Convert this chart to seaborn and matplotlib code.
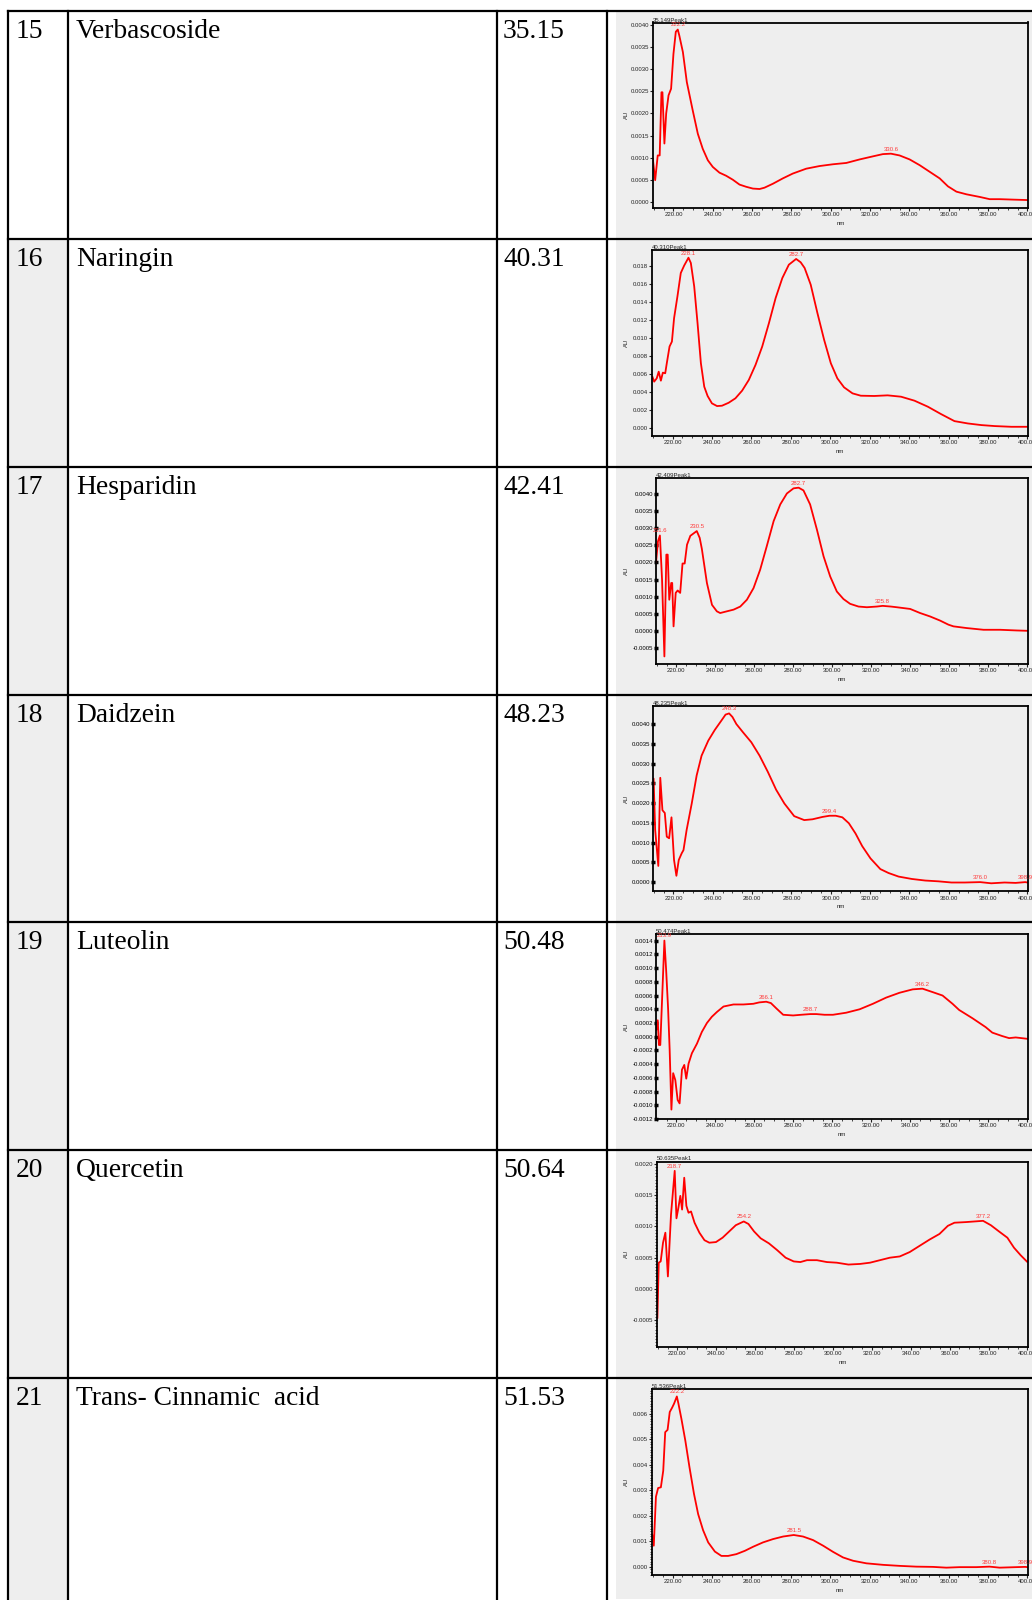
import numpy as np
import matplotlib
matplotlib.use("Agg")
import matplotlib.pyplot as plt
from matplotlib import font_manager as fm
from matplotlib.patches import Rectangle
from matplotlib.ticker import MultipleLocator, FormatStrFormatter
import seaborn as sns

sns.set_style("white")
plt.rcParams["font.family"] = ["Liberation Sans", "DejaVu Sans"]
plt.rcParams["text.color"] = "black"

# pick a Times-like serif face for the table text
_serif_names = sorted({f.name for f in fm.fontManager.ttflist})
serif_face = next((n for n in ["Liberation Serif", "Times New Roman", "Nimbus Roman",
                               "Tinos", "DejaVu Serif"] if n in _serif_names), "serif")

# ---- table content ----
serial_no = ["15", "16", "17", "18", "19", "20", "21"]
compounds = ["Verbascoside", "Naringin", "Hesparidin", "Daidzein", "Luteolin",
             "Quercetin", "Trans- Cinnamic  acid"]
retention = ["35.15", "40.31", "42.41", "48.23", "50.48", "50.64", "51.53"]
peak_titles = ["35.149Peak1", "40.310Peak1", "42.409Peak1", "48.235Peak1",
               "50.474Peak1", "50.635Peak1", "51.536Peak1"]

# ---- UV spectra (wavelength in nm, absorbance in AU) ----
wl_verbascoside = [209.5, 210.7, 212.0, 213.0, 213.9, 214.4, 215.4, 216.3, 217.5, 218.8,
                   220.0, 221.2, 222.2, 223.0, 224.8, 226.8, 229.8, 232.4, 234.9, 237.5,
                   240.0, 243.4, 246.8, 250.2, 253.6, 257.0, 260.4, 263.8, 266.3, 270.6,
                   275.6, 280.7, 287.5, 294.3, 301.1, 307.9, 314.7, 321.5, 326.5, 330.6,
                   335.0, 340.1, 345.2, 350.3, 355.4, 359.6, 363.9, 369.0, 375.8, 380.8,
                   385.9, 392.7, 400.0]
au_verbascoside = [0.00098, 0.00049, 0.00105, 0.00105, 0.00248, 0.00248, 0.00132, 0.00200, 0.00241, 0.00256,
                   0.00335, 0.00385, 0.00390, 0.00376, 0.00339, 0.00271, 0.00207, 0.00154, 0.00120, 0.00094,
                   0.00079, 0.00066, 0.00059, 0.00050, 0.00039, 0.00034, 0.00030, 0.00029, 0.00032, 0.00041,
                   0.00053, 0.00064, 0.00075, 0.00081, 0.00085, 0.00088, 0.00096, 0.00103, 0.00108, 0.00109,
                   0.00105, 0.00096, 0.00083, 0.00068, 0.00053, 0.00035, 0.00023, 0.00017, 0.00011, 0.00006,
                   0.00006, 0.00005, 0.00004]

wl_naringin = [209.8, 210.7, 212.0, 213.0, 214.1, 215.1, 216.3, 217.1, 218.5, 219.7,
               220.8, 222.5, 224.2, 225.9, 228.1, 229.3, 231.0, 232.7, 234.4, 236.1,
               237.8, 240.0, 242.6, 245.1, 248.5, 251.9, 255.3, 258.7, 262.1, 265.5,
               268.9, 272.3, 275.7, 279.0, 282.7, 285.0, 287.0, 290.1, 293.5, 296.9,
               300.3, 303.6, 307.0, 311.3, 315.5, 322.3, 329.1, 335.9, 342.7, 349.5,
               356.2, 363.0, 369.8, 376.6, 383.4, 391.9, 400.0]
au_naringin = [0.00568, 0.00512, 0.00549, 0.00623, 0.00523, 0.00612, 0.00605, 0.00716, 0.00902, 0.00957,
               0.01217, 0.01458, 0.01718, 0.01800, 0.01888, 0.01829, 0.01570, 0.01161, 0.00716, 0.00456,
               0.00353, 0.00271, 0.00241, 0.00245, 0.00278, 0.00327, 0.00412, 0.00531, 0.00698, 0.00902,
               0.01161, 0.01440, 0.01662, 0.01810, 0.01874, 0.01837, 0.01774, 0.01588, 0.01273, 0.00976,
               0.00716, 0.00549, 0.00449, 0.00382, 0.00356, 0.00353, 0.00360, 0.00345, 0.00301, 0.00234,
               0.00152, 0.00074, 0.00048, 0.00030, 0.00019, 0.00011, 0.00011]

wl_hesperidin = [209.6, 210.6, 211.6, 212.7, 213.9, 214.9, 215.6, 216.4, 217.4, 217.9,
                 218.6, 219.7, 220.7, 222.0, 223.2, 224.3, 225.5, 227.2, 230.5, 232.0,
                 233.1, 235.7, 238.3, 240.8, 242.5, 245.9, 249.4, 252.8, 256.2, 259.6,
                 263.0, 266.4, 269.9, 273.3, 276.7, 280.1, 282.7, 285.2, 288.6, 292.1,
                 295.5, 298.9, 302.3, 305.7, 309.1, 313.4, 317.7, 322.8, 325.8, 330.0,
                 333.0, 339.9, 345.0, 350.1, 355.2, 359.5, 362.1, 368.9, 377.5, 386.0,
                 394.5, 400.0]
au_hesperidin = [0.00199, 0.00262, 0.00279, 0.00150, -0.00075, 0.00223, 0.00223, 0.00091, 0.00140, 0.00140,
                 0.00013, 0.00111, 0.00118, 0.00111, 0.00197, 0.00197, 0.00252, 0.00278, 0.00292, 0.00272,
                 0.00240, 0.00140, 0.00076, 0.00057, 0.00052, 0.00057, 0.00062, 0.00071, 0.00091, 0.00125,
                 0.00179, 0.00248, 0.00321, 0.00370, 0.00402, 0.00417, 0.00419, 0.00411, 0.00370, 0.00296,
                 0.00218, 0.00159, 0.00115, 0.00093, 0.00079, 0.00071, 0.00069, 0.00071, 0.00073, 0.00071,
                 0.00069, 0.00064, 0.00052, 0.00042, 0.00030, 0.00018, 0.00013, 0.00008, 0.00003, 0.00003,
                 0.00001, 0.00000]

wl_daidzein = [209.9, 210.7, 212.3, 213.3, 214.4, 215.6, 216.6, 217.8, 219.0, 220.3,
               221.5, 222.7, 224.2, 225.1, 226.7, 229.3, 231.8, 234.3, 237.7, 241.0,
               244.4, 246.5, 248.3, 250.0, 252.0, 255.4, 259.6, 263.8, 268.0, 272.2,
               276.4, 281.4, 286.5, 290.7, 295.8, 299.4, 302.5, 305.9, 309.2, 312.6,
               316.0, 320.2, 325.2, 329.4, 334.5, 341.2, 348.0, 354.7, 361.4, 368.1,
               376.0, 381.6, 388.4, 394.0, 398.9, 400.0]
au_daidzein = [0.00262, 0.00132, 0.00041, 0.00264, 0.00182, 0.00175, 0.00115, 0.00111, 0.00164, 0.00056,
               0.00016, 0.00056, 0.00073, 0.00081, 0.00132, 0.00199, 0.00270, 0.00320, 0.00358, 0.00385,
               0.00409, 0.00424, 0.00427, 0.00418, 0.00400, 0.00379, 0.00354, 0.00320, 0.00279, 0.00234,
               0.00199, 0.00167, 0.00157, 0.00159, 0.00165, 0.00168, 0.00168, 0.00164, 0.00149, 0.00123,
               0.00091, 0.00060, 0.00033, 0.00023, 0.00014, 0.00008, 0.00004, 0.00002, -0.00001, -0.00001,
               0.00000, -0.00003, -0.00001, -0.00002, 0.00000, -0.00001]

wl_luteolin = [209.8, 210.5, 211.1, 211.8, 213.9, 214.8, 215.8, 216.6, 217.5, 218.4,
               219.5, 220.7, 221.7, 222.9, 224.1, 225.1, 226.3, 228.0, 230.6, 233.1,
               235.7, 238.2, 240.8, 244.2, 249.3, 254.4, 259.5, 262.5, 266.1, 268.5,
               271.4, 274.8, 279.9, 284.0, 288.7, 291.8, 296.0, 300.3, 307.1, 314.0,
               320.8, 327.6, 334.4, 341.2, 346.2, 351.4, 356.5, 361.6, 365.0, 371.8,
               378.6, 382.0, 387.1, 390.6, 394.0, 400.0]
au_luteolin = [0.00010, 0.00024, -0.00012, -0.00012, 0.00140, 0.00097, 0.00041, -0.00019, -0.00106, -0.00053,
               -0.00063, -0.00092, -0.00097, -0.00048, -0.00041, -0.00061, -0.00039, -0.00024, -0.00010, 0.00007,
               0.00020, 0.00029, 0.00036, 0.00044, 0.00047, 0.00047, 0.00048, 0.00050, 0.00051, 0.00049,
               0.00041, 0.00032, 0.00031, 0.00032, 0.00033, 0.00033, 0.00032, 0.00032, 0.00035, 0.00040,
               0.00048, 0.00057, 0.00064, 0.00069, 0.00070, 0.00065, 0.00060, 0.00048, 0.00039, 0.00027,
               0.00014, 0.00006, 0.00001, -0.00002, -0.00001, -0.00003]

wl_quercetin = [209.8, 210.5, 211.5, 212.7, 213.9, 215.2, 216.8, 218.7, 219.6, 220.6,
                221.6, 222.5, 223.6, 224.7, 225.8, 227.1, 228.9, 231.4, 234.0, 236.5,
                239.9, 243.3, 246.7, 250.1, 254.2, 256.6, 259.5, 262.9, 267.1, 271.4,
                275.7, 279.9, 283.3, 286.7, 291.8, 296.9, 302.0, 308.0, 314.0, 319.1,
                324.2, 329.3, 334.4, 339.5, 344.6, 349.7, 354.8, 359.1, 362.5, 368.4,
                377.2, 381.2, 385.4, 389.7, 393.1, 396.5, 400.0]
au_quercetin = [-0.00047, 0.00042, 0.00044, 0.00074, 0.00090, 0.00020, 0.00119, 0.00189, 0.00113, 0.00130,
                0.00149, 0.00127, 0.00178, 0.00133, 0.00122, 0.00124, 0.00106, 0.00090, 0.00078, 0.00074,
                0.00075, 0.00082, 0.00092, 0.00102, 0.00108, 0.00104, 0.00092, 0.00081, 0.00073, 0.00062,
                0.00050, 0.00044, 0.00043, 0.00046, 0.00046, 0.00043, 0.00042, 0.00039, 0.00040, 0.00042,
                0.00046, 0.00050, 0.00052, 0.00059, 0.00069, 0.00079, 0.00088, 0.00101, 0.00106, 0.00107,
                0.00109, 0.00102, 0.00092, 0.00082, 0.00066, 0.00054, 0.00043]

wl_cinnamic = [209.7, 210.5, 211.6, 212.7, 214.1, 215.3, 216.3, 217.5, 218.6, 219.8,
               220.8, 222.2, 223.0, 224.5, 226.5, 228.6, 230.9, 233.0, 235.5, 238.1,
               241.5, 244.8, 248.2, 252.4, 256.7, 260.9, 265.9, 271.0, 276.1, 281.5,
               286.2, 291.3, 296.4, 301.4, 306.5, 311.6, 318.3, 326.8, 335.2, 343.6,
               352.1, 358.9, 365.6, 374.1, 380.8, 385.9, 394.3, 398.9, 400.0]
au_cinnamic = [0.00128, 0.00083, 0.00275, 0.00309, 0.00312, 0.00377, 0.00528, 0.00537, 0.00607, 0.00624,
               0.00640, 0.00668, 0.00640, 0.00581, 0.00495, 0.00391, 0.00286, 0.00207, 0.00144, 0.00096,
               0.00060, 0.00043, 0.00043, 0.00050, 0.00063, 0.00079, 0.00096, 0.00109, 0.00119, 0.00125,
               0.00119, 0.00105, 0.00083, 0.00059, 0.00037, 0.00024, 0.00014, 0.00008, 0.00004, 0.00001,
               0.00000, -0.00003, -0.00001, -0.00001, 0.00001, -0.00003, -0.00001, 0.00000, -0.00001]

wavelengths = [wl_verbascoside, wl_naringin, wl_hesperidin, wl_daidzein,
               wl_luteolin, wl_quercetin, wl_cinnamic]
absorbances = [au_verbascoside, au_naringin, au_hesperidin, au_daidzein,
               au_luteolin, au_quercetin, au_cinnamic]

# labelled absorption maxima (nm)
peaks = [[222.2, 330.6],
         [228.1, 282.7],
         [211.6, 230.5, 282.7, 325.8],
         [248.3, 299.4, 376.0, 398.9],
         [213.9, 266.1, 288.7, 346.2],
         [218.7, 254.2, 377.2],
         [222.2, 281.5, 380.8, 398.9]]

# y-axis ranges, tick steps and number formats of each spectrum panel
y_limits = [(-0.00014, 0.00406), (-0.00089, 0.0197), (-0.00096, 0.00447),
            (-0.000235, 0.00446), (-0.0012, 0.0015), (-0.00093, 0.00204),
            (-0.00031, 0.00696)]
y_tick_start = [0.0, 0.0, -0.0005, 0.0, -0.0012, -0.0005, 0.0]
y_tick_step = [0.0005, 0.002, 0.0005, 0.0005, 0.0002, 0.0005, 0.001]
y_fmt = ["%.4f", "%.3f", "%.4f", "%.4f", "%.4f", "%.4f", "%.3f"]

# ---- figure and table grid (pixel coordinates) ----
W, H = 1032, 1600
fig = plt.figure(figsize=(W / 100, H / 100), dpi=100)
fig.patch.set_facecolor("white")
bg = fig.add_axes([0, 0, 1, 1])
bg.set_xlim(0, W)
bg.set_ylim(H, 0)
bg.axis("off")

row_h = 227.8
row_tops = [11.2 + i * row_h for i in range(len(compounds))]
col_x = [8, 68.3, 497, 607]
gray = "#eeeeee"

for i, top in enumerate(row_tops):
    bottom = H if i == len(row_tops) - 1 else top + row_h
    # shaded spectrum cell
    bg.add_patch(Rectangle((616, top + 1), W - 616, bottom - top - 2,
                           facecolor=gray, edgecolor="none", zorder=0))
    if i > 0:
        bg.add_patch(Rectangle((col_x[0], top), col_x[1] - col_x[0], bottom - top,
                               facecolor=gray, edgecolor="none", zorder=0))

for top in row_tops:
    bg.plot([col_x[0], W], [top, top], color="black", lw=1.6, zorder=3,
            solid_capstyle="projecting")
for x in col_x:
    bg.plot([x, x], [row_tops[0], H], color="black", lw=1.6, zorder=3,
            solid_capstyle="projecting")

for i, top in enumerate(row_tops):
    base = top + 27
    for xpos, txt in [(16, serial_no[i]), (76, compounds[i]), (503, retention[i])]:
        bg.text(xpos, base, txt, fontsize=19.8, family=serif_face, color="black",
                va="baseline", ha="left")

# ---- spectrum panels ----
ax_left = [653, 652, 656, 653, 656, 657, 652]
ax_right = 1028
ax_h = 185.5
small = 4.3
square_ticks = [False, False, True, True, True, False, False]
y_minor = [None, None, None, None, None, 0.00005, 0.0001]

for i, top in enumerate(row_tops):
    L = ax_left[i]
    T = top + 11.3
    ax = fig.add_axes([L / W, 1 - (T + ax_h) / H, (ax_right - L) / W, ax_h / H])
    ax.set_facecolor(gray)

    sns.lineplot(x=wavelengths[i], y=absorbances[i], ax=ax, color="#ff0000",
                 linewidth=1.3, legend=False)

    ax.set_xlim(209.6, 400.3)
    ax.set_ylim(*y_limits[i])
    ax.xaxis.set_major_locator(MultipleLocator(20))
    ax.xaxis.set_minor_locator(MultipleLocator(5))
    ax.xaxis.set_major_formatter(FormatStrFormatter("%.2f"))
    yt = np.arange(y_tick_start[i], y_limits[i][1] + 1e-9, y_tick_step[i])
    ax.set_yticks(yt)
    ax.yaxis.set_major_formatter(FormatStrFormatter(y_fmt[i]))
    if y_minor[i]:
        ax.yaxis.set_minor_locator(MultipleLocator(y_minor[i]))

    for s in ax.spines.values():
        s.set_visible(True)
        s.set_color("black")
        s.set_linewidth(1.3)

    ax.tick_params(axis="both", which="major", labelsize=small, pad=1,
                   length=2, width=0.8, colors="#222222", direction="out",
                   bottom=True, left=True)
    ax.tick_params(axis="both", which="minor", length=1.5, width=0.6,
                   direction="out", bottom=True, left=True)
    if square_ticks[i]:
        ax.tick_params(axis="y", which="major", length=2.5, width=2.5,
                       direction="inout", colors="black")

    ax.set_xlabel("nm", fontsize=small, labelpad=0)
    ax.set_ylabel("AU", fontsize=small, labelpad=0)
    ax.xaxis.set_label_coords(0.5, -13 / ax_h)
    ax.yaxis.set_label_coords((629 - L) / (ax_right - L), 0.5)

    ax.text(0.0, 1.0, peak_titles[i], transform=ax.transAxes, fontsize=small,
            ha="left", va="bottom", color="#222222")

    for p in peaks[i]:
        yv = float(np.interp(p, wavelengths[i], absorbances[i]))
        ax.annotate(f"{p:.1f}", (p, yv), xytext=(0, 1.5), textcoords="offset points",
                    ha="center", va="bottom", fontsize=small, color="#ff3b3b",
                    annotation_clip=False)

fig.savefig("out.png", dpi=100)
